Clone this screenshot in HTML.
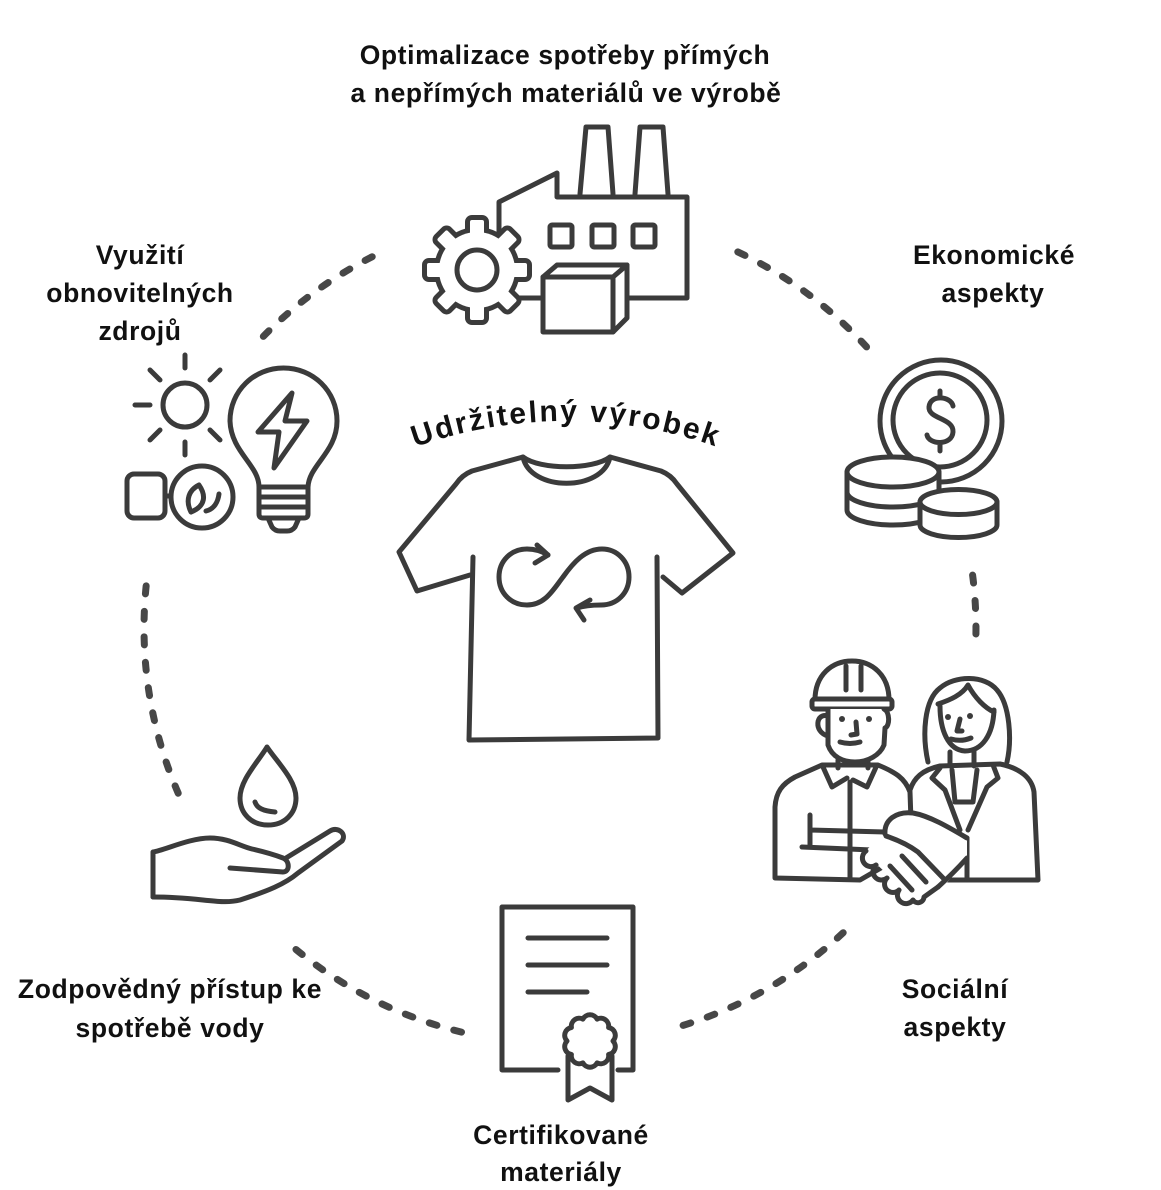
<!DOCTYPE html>
<html><head><meta charset="utf-8"><style>
html,body{margin:0;padding:0;background:#fff;}
svg{display:block;}
.t{font-family:"Liberation Sans",Arial,sans-serif;font-weight:bold;font-size:26.5px;fill:#111;letter-spacing:0.6px;}
.ic{fill:none;stroke:#3b3b3b;stroke-width:5;stroke-linecap:round;stroke-linejoin:round;}
.icw{fill:#fff;stroke:#3b3b3b;stroke-width:5;stroke-linecap:round;stroke-linejoin:round;}
.d{fill:none;stroke:#474747;stroke-width:7;stroke-linecap:round;stroke-dasharray:8 17.5;}
</style></head><body>
<svg width="1161" height="1190" viewBox="0 0 1161 1190" xmlns="http://www.w3.org/2000/svg">
<rect width="1161" height="1190" fill="#fff"/>

<!-- dashed circle arcs -->
<path class="d" d="M263.3,336.4 A416,416 0 0 1 377,254.4"/>
<path class="d" d="M737.8,251.9 A416,416 0 0 1 869.1,349.7"/>
<path class="d" d="M972.6,575.1 A416,416 0 0 1 975.4,649.8"/>
<path class="d" d="M843.2,932.7 A416,416 0 0 1 674.7,1027.9"/>
<path class="d" d="M461.5,1032.1 A416,416 0 0 1 287.1,942"/>
<path class="d" d="M178.2,793.2 A416,416 0 0 1 147.4,575.1"/>

<!-- labels -->
<g class="t" text-anchor="middle">
<text x="565" y="64">Optimalizace spotřeby přímých</text>
<text x="566" y="102">a nepřímých materiálů ve výrobě</text>
<text x="140" y="264">Využití</text>
<text x="140" y="302">obnovitelných</text>
<text x="140" y="340">zdrojů</text>
<text x="994" y="264">Ekonomické</text>
<text x="993" y="302">aspekty</text>
<text x="170" y="998">Zodpovědný přístup ke</text>
<text x="170" y="1037">spotřebě vody</text>
<text x="955" y="998">Sociální</text>
<text x="955" y="1036">aspekty</text>
<text x="561" y="1144">Certifikované</text>
<text x="561" y="1181">materiály</text>
</g>

<!-- curved title -->
<defs><path id="arc" d="M116,871 A450,450 0 0 1 1016,871"/></defs>
<text font-family="Liberation Sans,Arial,sans-serif" font-weight="bold" font-size="30" fill="#111" letter-spacing="2.2"><textPath href="#arc" startOffset="50%" text-anchor="middle">Udržitelný výrobek</textPath></text>

<!-- FACTORY -->
<path class="ic" d="M580,194 L586,127 L608,127 L613,194"/>
<path class="ic" d="M635,194 L640,127 L663,127 L668,194"/>
<path class="icw" d="M499,298 L499,202 L557,173 L557,197 L687,197 L687,298 Z"/>
<rect class="ic" x="550" y="225" width="22" height="22" rx="2"/>
<rect class="ic" x="592" y="225" width="22" height="22" rx="2"/>
<rect class="ic" x="633" y="225" width="22" height="22" rx="2"/>
<g transform="translate(477,270)">
 <g fill="#3b3b3b" stroke="#3b3b3b" stroke-width="10" stroke-linejoin="round">
  <circle r="38"/>
  <rect x="-7" y="-50" width="14" height="100" rx="2"/>
  <rect x="-7" y="-50" width="14" height="100" rx="2" transform="rotate(45)"/>
  <rect x="-7" y="-50" width="14" height="100" rx="2" transform="rotate(90)"/>
  <rect x="-7" y="-50" width="14" height="100" rx="2" transform="rotate(135)"/>
 </g>
 <g fill="#fff">
  <circle r="38"/>
  <rect x="-7" y="-50" width="14" height="100" rx="2"/>
  <rect x="-7" y="-50" width="14" height="100" rx="2" transform="rotate(45)"/>
  <rect x="-7" y="-50" width="14" height="100" rx="2" transform="rotate(90)"/>
  <rect x="-7" y="-50" width="14" height="100" rx="2" transform="rotate(135)"/>
 </g>
 <circle class="ic" r="20"/>
</g>
<path class="icw" d="M543,277 L557,265 L627,265 L627,318 L613,332 L543,332 Z"/>
<path class="ic" d="M543,277 L613,277 L627,265 M613,277 L613,332"/>

<!-- RENEWABLES -->
<circle class="ic" cx="185" cy="405" r="22"/>
<path class="ic" d="M185,355 L185,368 M185,442 L185,455 M135,405 L150,405 M160,380 L150,370 M210,380 L220,370 M160,430 L150,440 M210,430 L220,440"/>
<path class="ic" d="M259,487 C259,465 231,452 230,421 C230,391 254,368 283.5,368 C313,368 337,391 337,421 C337,452 309,465 308,487"/>
<path class="ic" d="M259,487 L308,487 L308,514 Q308,518 304,518 L263,518 Q259,518 259,514 Z M259,497 L308,497 M259,507 L308,507"/>
<path class="ic" d="M268,518 L272,527 Q275,531 280,531 L287,531 Q292,531 295,527 L299,518"/>
<path class="ic" d="M292,393 L258,432 L279,432 L274,468 L307,421 L285,421 Z"/>
<rect class="ic" x="127" y="474" width="38" height="44" rx="7"/>
<path class="ic" d="M165,496 L171,496"/>
<circle class="ic" cx="202" cy="497" r="31"/>
<path class="ic" d="M191,512 C185,500 189,490 199,485 C206,495 206,506 191,512 Z" stroke-width="4.5"/>
<path class="ic" d="M206,511 C214,509 218,502 219,494" stroke-width="4.5"/>

<!-- COINS -->
<circle class="icw" cx="941" cy="421" r="61"/>
<circle class="ic" cx="940" cy="420" r="47"/>
<path class="ic" d="M953,406 C951,396 930,394 929,407 C928,419 954,418 953,432 C952,446 929,445 927,435 M940,391 L940,397 M940,445 L940,451"/>
<path class="icw" d="M847,472 L847,510 A46,15 0 0 0 939,510 L939,472 Z"/>
<path class="ic" d="M847,492 A46,15 0 0 0 939,492"/>
<ellipse class="icw" cx="893" cy="472" rx="46" ry="15"/>
<path class="icw" d="M920,502 L920,525 A38.5,12.5 0 0 0 997,525 L997,502 Z"/>
<ellipse class="icw" cx="958.5" cy="502" rx="38.5" ry="12.5"/>

<!-- PEOPLE -->
<!-- woman -->
<path class="icw" d="M928,762 C922,735 924,700 940,688 C955,675 985,675 997,690 C1010,705 1012,740 1007,762"/>
<path class="icw" d="M912,880 L908,810 L910,790 C914,778 922,770 940,766 L1000,764 C1020,768 1032,778 1034,792 L1038,880 Z"/>
<path class="ic" d="M940,768 L932,778 L945,790 L960,830 M993,765 L998,778 L987,787 L968,830 M952,770 L955,802 L973,802 L977,770 M967,838 L967,880"/>
<path class="icw" d="M940,706 C940,730 948,750 965,751 C982,751 993,735 994,710"/>
<path class="ic" d="M938,704 C950,700 962,695 968,685 C975,698 985,708 994,712"/>
<circle cx="948" cy="717" r="3" fill="#3b3b3b"/><circle cx="970" cy="716" r="3" fill="#3b3b3b"/>
<path class="ic" d="M960,719 L957,731 L962,731 M951,739 Q961,742 971,738 M950,752 L950,766 M974,751 L974,766" stroke-width="4"/>
<!-- man -->
<path class="icw" d="M775,878 L775,807 C776,792 782,784 795,777 L822,765 L878,765 C895,772 905,778 910,792 L912,850 L860,880 Z"/>
<path class="ic" d="M823,767 L832,787 L847,778 M877,765 L867,787 L853,780 M850,782 L850,878 M838,760 L838,768 M868,758 L868,768"/>
<path class="ic" d="M810,815 L810,847 M810,830 L885,832 M802,847 L872,850"/>
<path class="icw" d="M815,700 C815,675 832,661 852,661 C872,661 889,675 889,700 Z"/>
<path class="ic" d="M846,666 L846,690 M861,666 L861,690"/>
<rect class="icw" x="812" y="699" width="80" height="10" rx="3"/>
<path class="icw" d="M828,709 L828,745 C832,757 843,762 855,762 C868,762 880,755 884,745 L885,728 C890,726 890,712 884,709"/>
<path class="ic" d="M828,716 C816,712 813,732 828,736"/>
<circle cx="842" cy="719" r="3" fill="#3b3b3b"/><circle cx="869" cy="719" r="3" fill="#3b3b3b"/>
<path class="ic" d="M856,722 L857,734 L851,735 M840,742 Q850,745 860,742" stroke-width="4"/>
<!-- handshake -->
<path d="M885,834 C884,820 896,811 913,813 C930,816 950,828 967,838 L967,858 L945,885 L918,904 L864,852 Z" fill="#fff"/>
<path class="ic" d="M885,834 C884,820 896,811 913,813 C930,816 950,828 967,838"/>
<path class="ic" d="M886,836 C898,840 910,846 918,852 L945,880"/>
<path class="ic" d="M967,858 C958,868 948,878 938,887"/>
<path class="ic" d="M902,856 L926,882 M890,866 L912,890"/>
<path class="ic" d="M866,851 A7,7 0 0 0 876,865 A7,7 0 0 0 887,878 A7,7 0 0 0 899,890 A7,7 0 0 0 913,900 A6,6 0 0 0 924,897 L938,887"/>

<!-- WATER HAND -->
<path class="ic" d="M267,747 C258,762 240,780 240,798 C240,814 252,825 268,825 C284,825 296,814 296,798 C296,780 277,762 267,747 Z"/>
<path class="ic" d="M255,802 C257,808 263,811 275,812" stroke-width="4.5"/>
<path class="ic" d="M153,852 L153,897 M153,852 C165,850 190,838 210,838 C228,838 240,846 252,849 C265,852 275,855 283,858 C290,861 290,872 283,872 L230,868"/>
<path class="ic" d="M286,858 L330,831 C338,826 347,834 342,841 L298,873 C285,884 268,891 240,900 C220,905 200,897 153,897"/>

<!-- CERTIFICATE -->
<path class="ic" d="M558,1070 L502,1070 L502,907 L633,907 L633,1070 L618,1070"/>
<path class="ic" d="M528,938 L607,938 M528,965 L607,965 M528,992 L587,992"/>
<path class="icw" d="M568,1056 L568,1100 L590,1088 L612,1100 L612,1056"/>
<path class="icw" d="M613,1041 A8,8 0 0 1 608.6,1054.5 A8,8 0 0 1 597.1,1062.9 A8,8 0 0 1 582.9,1062.9 A8,8 0 0 1 571.4,1054.5 A8,8 0 0 1 567,1041 A8,8 0 0 1 571.4,1027.5 A8,8 0 0 1 582.9,1019.1 A8,8 0 0 1 597.1,1019.1 A8,8 0 0 1 608.6,1027.5 A8,8 0 0 1 613,1041 Z"/>

<!-- T-SHIRT -->
<path class="ic" d="M523,457 C540,470 593,470 610,457 M523,457 C530,492 603,492 610,457"/>
<path class="ic" d="M523,457 L472,471 Q462,475 456,484 L399,552 L417,591 L470,575"/>
<path class="ic" d="M610,457 L661,471 Q671,475 677,484 L733,553 L682,593 L663,577"/>
<path class="ic" d="M473,557 L469,740 L658,738 L657,557"/>
<path class="ic" d="M548,555 C540,550 533,549 527,549 C511,549 499,561 499,577 C499,593 511,605 527,605 C545,605 553,590 563,577 C573,563 585,549 602,549 C617,549 629,561 629,577 C629,593 617,605 601,605 C592,605 583,606 577,608"/>
<path class="ic" d="M537,545 L548,555 L535,563 M590,600 L576,608 L584,620"/>
</svg>
</body></html>
